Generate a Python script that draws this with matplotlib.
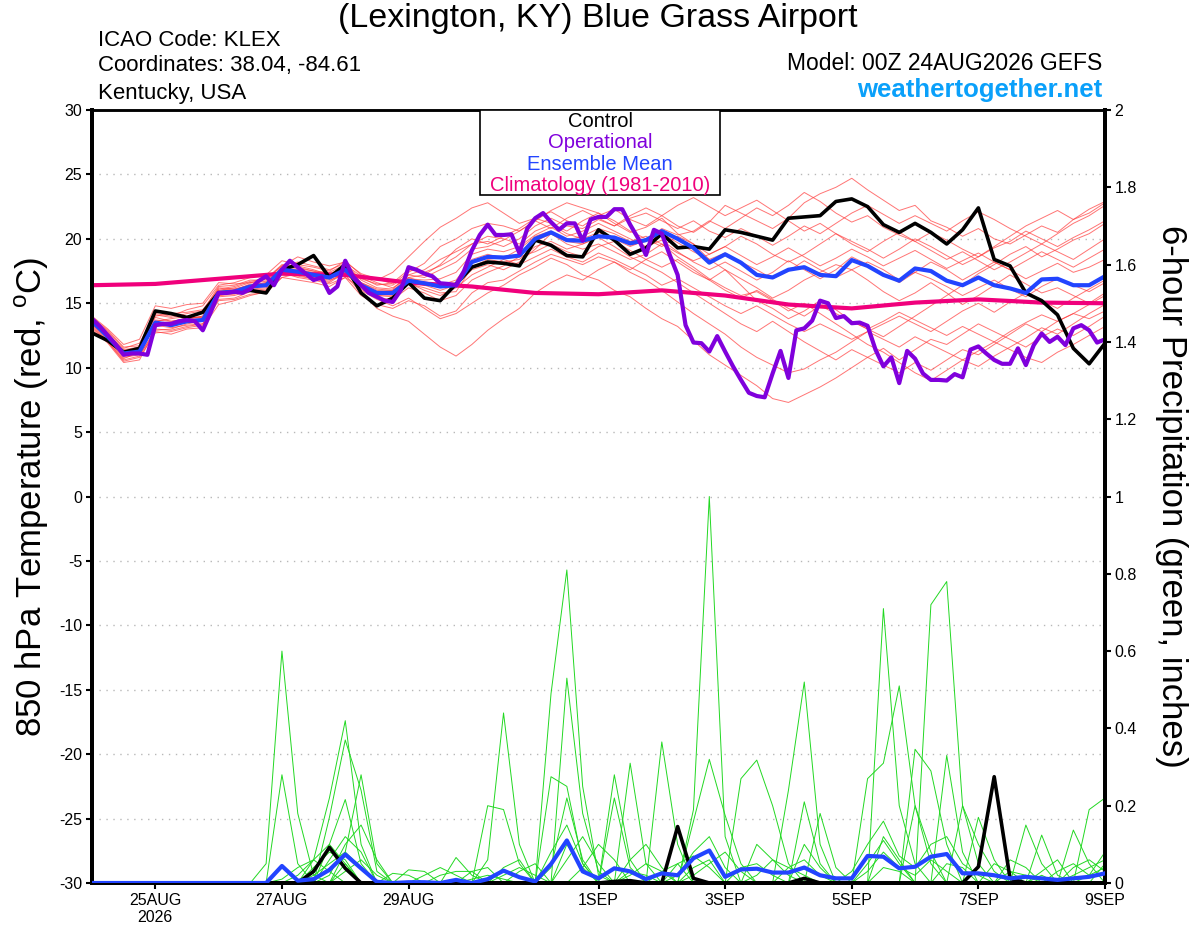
import numpy as np
import matplotlib
matplotlib.use('Agg')
from matplotlib import pyplot as plt
from matplotlib.patches import Rectangle

plt.rcParams['font.family'] = ['Liberation Sans', 'DejaVu Sans']

# x labels (days after 00Z 24AUG2026)
tick_days = [1, 3, 5, 8, 10, 12, 14, 16]
tick_labels = ['25AUG\n2026', '27AUG', '29AUG', '1SEP', '3SEP', '5SEP', '7SEP', '9SEP']

# 850 hPa temperature, 6-hourly (65 steps)
ctrl_t = [12.7, 12.1, 11.2, 11.5, 14.4, 14.2, 13.9, 14.3, 15.8, 15.9, 16.0, 15.8, 17.6,
          18.0, 18.7, 17.0, 18.0, 15.8, 14.8, 15.4, 16.6, 15.4, 15.2, 16.5, 17.8, 18.2,
          18.1, 17.9, 19.9, 19.5, 18.7, 18.6, 20.7, 19.9, 18.8, 19.3, 20.4, 19.3, 19.4,
          19.2, 20.7, 20.5, 20.2, 19.9, 21.6, 21.7, 21.8, 22.9, 23.1, 22.5, 21.1, 20.5,
          21.2, 20.5, 19.6, 20.7, 22.4, 18.4, 17.9, 15.8, 15.2, 14.1, 11.5, 10.3, 11.9]
mean_t = [13.6, 12.4, 11.1, 11.25, 13.5, 13.3, 13.6, 13.7, 15.8, 15.9, 16.3, 16.4, 17.6,
          17.45, 17.2, 17.0, 17.6, 16.4, 15.8, 15.8, 16.75, 16.55, 16.3, 16.4, 18.2, 18.6,
          18.55, 18.7, 20.0, 20.5, 19.9, 19.85, 20.2, 20.1, 19.65, 19.9, 20.6, 20.0, 19.3,
          18.15, 18.8, 18.15, 17.2, 17.0, 17.6, 17.8, 17.2, 17.1, 18.35, 17.9, 17.2, 16.75,
          17.7, 17.5, 16.75, 16.4, 17.0, 16.4, 16.15, 15.8, 16.85, 16.9, 16.4, 16.4, 17.1]

# operational run is 3-hourly (129 steps)
oper_t = [13.8, 13.2, 12.5, 11.8, 11.0, 11.1, 11.1, 11.0, 13.3, 13.4, 13.4, 13.6, 13.7, 13.6, 12.9, 14.3,
          15.8, 15.8, 15.9, 15.8, 16.1, 16.7, 17.1, 16.4, 17.6, 18.3, 17.8, 17.3, 16.8, 17.0, 15.8, 16.3,
          18.3, 17.05, 16.4, 15.8, 15.5, 15.2, 15.1, 16.0, 17.8, 17.6, 17.3, 17.1, 16.55, 16.5, 16.4, 17.5,
          19.1, 20.3, 21.1, 20.3, 20.3, 20.35, 18.9, 20.8, 21.6, 22.0, 21.3, 20.7, 21.2, 21.2, 19.85, 21.5,
          21.7, 21.7, 22.3, 22.3, 21.1, 20.05, 18.75, 20.7, 20.4, 18.75, 17.2, 13.3, 11.95, 11.9, 11.25, 12.45,
          11.25, 10.1, 9.05, 8.05, 7.8, 7.7, 9.55, 11.3, 9.2, 12.9, 13.05, 13.65, 15.2, 15.0, 13.85, 14.0,
          13.45, 13.5, 13.25, 11.4, 10.1, 10.8, 8.8, 11.3, 10.7, 9.55, 9.05, 9.05, 9.0, 9.5, 9.25, 11.4,
          11.65, 11.1, 10.6, 10.3, 10.3, 11.5, 10.2, 11.75, 12.65, 12.0, 12.4, 11.75, 13.05, 13.3, 12.9, 11.95,
          12.2]

# climatology, daily
clim_t = [16.4, 16.5, 16.9, 17.3, 17.2, 16.6, 16.3, 15.8, 15.7, 16.0, 15.6, 14.9, 14.6, 15.05, 15.3, 15.05, 15.0]

# ensemble members, temperature
ens_t01 = [13.9, 12.8, 11.5, 11.9, 14.2, 14.0, 14.5, 14.8, 16.4, 16.6, 17.0, 17.2, 18.3, 18.0, 17.8, 17.5, 18.3,
           17.2, 16.8, 17.4, 18.6, 19.8, 20.9, 21.6, 22.4, 22.8, 22.0, 21.2, 21.6, 22.1, 21.4, 21.0, 21.8,
           22.3, 21.5, 21.0, 21.8, 21.0, 20.5, 21.3, 22.6, 22.0, 21.4, 20.8, 21.6, 22.8, 23.5, 24.0, 24.7,
           23.8, 23.0, 22.2, 22.6, 21.4, 20.9, 20.2, 20.8, 20.0, 19.6, 20.3, 21.0, 20.5, 21.5, 22.3, 22.9]
ens_t02 = [13.2, 12.0, 10.6, 10.9, 13.0, 12.9, 13.2, 13.4, 15.3, 15.4, 15.9, 16.0, 17.2, 17.1, 16.9, 16.6, 17.4,
           16.0, 15.3, 14.8, 15.4, 14.6, 13.8, 14.2, 15.0, 15.8, 16.4, 17.2, 17.8, 18.5, 18.0, 17.2, 16.8,
           16.0, 15.5, 14.6, 13.8, 13.2, 12.1, 11.0, 10.2, 9.4, 8.6, 7.6, 7.3, 7.9, 8.5, 9.2, 10.0,
           10.8, 11.5, 10.6, 11.4, 12.2, 11.8, 12.6, 13.4, 12.8, 12.2, 11.6, 12.4, 13.0, 12.5, 13.2, 14.0]
ens_t03 = [13.4, 12.2, 10.8, 11.0, 12.8, 12.6, 13.0, 13.1, 14.9, 15.2, 15.6, 15.9, 17.0, 17.3, 17.0, 16.8, 17.2,
           15.8, 14.6, 14.0, 13.6, 12.6, 11.6, 10.9, 11.8, 12.9, 13.8, 14.6, 15.8, 16.6, 17.2, 16.8, 17.6,
           18.2, 17.6, 18.4, 19.0, 18.2, 17.4, 16.8, 17.6, 16.9, 16.2, 15.4, 16.0, 16.8, 17.4, 18.0, 17.6,
           16.8, 15.9, 15.2, 15.8, 16.6, 15.8, 14.9, 15.6, 16.4, 17.2, 16.5, 15.8, 16.2, 15.6, 15.0, 15.8]
ens_t04 = [14.0, 13.0, 11.8, 12.2, 14.8, 14.6, 14.9, 15.0, 16.6, 16.5, 16.6, 16.9, 17.9, 18.6, 18.2, 17.9, 18.2,
           17.3, 16.9, 16.5, 17.4, 18.1, 19.4, 20.0, 20.8, 21.2, 21.0, 20.6, 21.4, 22.2, 22.8, 22.4, 22.0,
           21.2, 20.5, 20.9, 21.6, 20.4, 19.6, 18.4, 17.6, 16.4, 15.2, 14.6, 13.8, 14.4, 15.2, 14.5, 13.6,
           13.0, 12.4, 13.2, 14.0, 14.8, 15.6, 16.4, 17.3, 18.0, 18.8, 19.4, 18.6, 19.2, 19.9, 20.4, 21.2]
ens_t05 = [13.5, 12.5, 11.3, 11.6, 13.6, 13.8, 14.0, 14.2, 16.0, 16.2, 16.6, 16.7, 17.7, 17.9, 17.6, 17.2, 17.9,
           16.6, 16.0, 15.9, 16.9, 16.8, 16.9, 17.4, 18.8, 19.2, 19.0, 19.4, 20.3, 20.9, 20.2, 20.6, 21.2,
           20.6, 20.0, 19.4, 19.9, 19.0, 18.2, 17.6, 18.2, 17.5, 16.8, 17.4, 18.3, 17.6, 16.9, 17.6, 18.6,
           18.0, 17.3, 16.6, 17.4, 18.2, 17.6, 16.8, 17.5, 18.2, 17.6, 16.9, 17.5, 18.1, 17.4, 17.8, 18.4]
ens_t06 = [13.0, 11.9, 10.4, 10.6, 12.9, 13.0, 13.4, 13.6, 15.6, 15.8, 16.1, 16.2, 17.4, 17.0, 16.8, 16.5, 17.0,
           16.2, 15.6, 15.5, 16.5, 16.2, 15.8, 15.9, 17.8, 18.4, 18.2, 18.4, 19.4, 19.8, 19.2, 19.6, 20.1,
           19.4, 18.6, 18.0, 17.4, 16.6, 15.8, 15.0, 14.2, 13.4, 12.8, 13.6, 12.8, 12.0, 11.3, 10.6, 11.4,
           10.8, 10.2, 9.6, 10.4, 9.8, 10.6, 11.4, 11.0, 11.8, 12.6, 13.4, 12.8, 13.6, 14.2, 13.8, 14.4]
ens_t07 = [13.7, 12.6, 11.0, 11.3, 13.2, 13.5, 13.9, 13.9, 15.7, 16.0, 16.5, 16.4, 17.5, 17.6, 17.4, 17.3, 17.8,
           16.9, 16.5, 16.4, 17.2, 17.6, 18.4, 19.0, 19.6, 20.2, 20.0, 19.6, 20.6, 21.1, 20.4, 20.0, 20.5,
           20.0, 19.4, 19.9, 20.8, 20.3, 20.6, 21.4, 20.8, 21.6, 22.4, 21.8, 22.6, 23.6, 22.9, 22.0, 21.3,
           21.8, 20.9, 20.3, 19.8, 20.5, 19.9, 19.2, 18.6, 19.3, 19.8, 20.6, 20.0, 19.4, 20.1, 20.7, 21.4]
ens_t08 = [13.3, 12.1, 10.7, 11.2, 13.3, 13.1, 13.3, 13.4, 15.5, 15.6, 16.0, 16.1, 17.3, 17.2, 16.9, 16.7, 17.5,
           16.4, 15.9, 16.0, 16.8, 16.4, 16.0, 16.4, 17.6, 18.0, 17.6, 18.2, 19.2, 20.4, 19.6, 19.2, 19.6,
           19.0, 18.4, 18.8, 19.6, 18.6, 17.8, 16.9, 16.2, 15.6, 15.9, 15.2, 14.4, 15.0, 14.2, 13.4, 12.6,
           11.8, 11.2, 10.4, 9.6, 9.0, 9.8, 10.6, 10.1, 10.9, 11.6, 12.3, 13.1, 12.6, 13.4, 14.2, 14.9]
ens_t09 = [13.8, 12.7, 11.3, 11.5, 13.9, 13.6, 13.8, 14.0, 16.2, 16.1, 16.4, 16.6, 17.8, 17.7, 17.5, 17.1, 17.6,
           17.0, 16.4, 16.6, 17.6, 17.4, 17.9, 18.6, 19.6, 19.8, 19.4, 20.0, 21.0, 21.6, 21.0, 20.8, 21.5,
           21.0, 21.6, 22.0, 21.4, 20.8, 21.4, 20.6, 20.1, 20.8, 20.2, 19.5, 20.2, 21.0, 20.4, 21.2, 22.0,
           22.6, 21.9, 21.2, 21.8, 21.2, 20.6, 21.4, 22.1, 21.5, 20.8, 20.2, 19.6, 20.4, 21.2, 21.8, 22.6]
ens_t10 = [13.1, 12.0, 10.5, 10.8, 12.7, 12.8, 13.1, 13.3, 15.2, 15.3, 15.7, 15.8, 17.0, 16.8, 16.6, 16.3, 17.0,
           15.6, 14.9, 14.6, 15.2, 14.8, 14.0, 14.4, 15.8, 16.6, 16.8, 17.5, 18.2, 18.8, 18.4, 18.0, 18.6,
           18.2, 17.4, 16.8, 16.0, 15.1, 14.2, 13.4, 12.6, 11.6, 10.8, 10.2, 9.6, 9.9, 10.6, 11.2, 12.0,
           12.8, 13.4, 14.0, 13.4, 12.8, 13.6, 14.4, 15.0, 14.3, 15.1, 15.8, 15.2, 14.6, 15.4, 16.1, 16.8]
ens_t11 = [13.6, 12.3, 11.1, 11.4, 13.5, 13.4, 13.7, 13.8, 15.9, 16.0, 16.3, 16.5, 17.6, 17.4, 17.1, 17.0, 17.7,
           16.3, 15.7, 15.6, 16.6, 16.4, 16.5, 16.6, 18.1, 18.6, 18.6, 18.8, 19.8, 20.4, 19.8, 19.6, 20.2,
           20.1, 19.5, 19.8, 20.4, 19.7, 19.0, 18.4, 18.9, 18.2, 17.6, 16.9, 17.5, 18.3, 17.6, 17.0, 17.6,
           18.2, 17.6, 16.8, 17.4, 16.9, 16.3, 15.6, 16.2, 16.8, 16.1, 15.5, 16.3, 16.9, 16.4, 15.9, 16.6]
ens_t12 = [13.9, 12.9, 11.6, 11.7, 14.0, 14.2, 14.3, 14.5, 16.1, 16.3, 16.7, 16.9, 18.0, 17.8, 17.5, 17.4, 18.0,
           17.1, 16.6, 16.2, 17.0, 17.2, 18.0, 19.2, 20.0, 19.6, 20.2, 20.8, 21.6, 21.2, 20.6, 21.4, 22.0,
           21.4, 20.6, 20.0, 19.4, 20.2, 19.6, 18.8, 19.4, 20.2, 19.6, 18.8, 18.2, 18.8, 19.6, 20.4, 19.8,
           19.2, 18.5, 19.2, 20.0, 19.4, 18.7, 18.0, 18.6, 19.4, 20.2, 21.0, 21.6, 22.2, 21.5, 22.0, 22.8]
ens_t13 = [13.5, 12.3, 10.9, 11.1, 13.4, 13.2, 13.5, 13.7, 15.6, 15.7, 16.2, 16.3, 17.3, 17.5, 17.3, 17.1, 17.4,
           16.1, 15.4, 15.3, 16.2, 15.8, 15.2, 15.6, 16.8, 17.4, 17.9, 18.6, 19.0, 19.6, 19.0, 18.6, 19.4,
           19.8, 19.1, 18.4, 17.8, 18.4, 17.6, 16.8, 16.0, 15.4, 16.0, 15.3, 14.6, 14.0, 14.8, 14.2, 13.6,
           13.0, 13.6, 14.3, 13.7, 13.1, 12.5, 13.2, 12.6, 12.0, 12.8, 13.5, 14.1, 13.6, 14.2, 14.9, 15.6]
ens_t14 = [13.7, 12.6, 11.4, 11.6, 14.1, 13.9, 14.2, 14.4, 16.3, 16.4, 16.8, 16.8, 17.9, 18.2, 17.9, 17.6, 18.1,
           16.8, 16.2, 16.1, 17.2, 17.0, 17.6, 18.2, 19.2, 19.4, 19.9, 20.6, 21.4, 20.8, 21.6, 22.2, 21.6,
           21.0, 21.8, 22.4, 21.8, 22.6, 23.2, 22.5, 21.8, 22.4, 23.0, 22.2, 21.4, 20.6, 21.2, 20.4, 19.6,
           19.0, 19.8, 20.5, 19.8, 19.1, 18.4, 19.0, 18.3, 17.6, 18.2, 18.9, 19.6, 19.0, 18.4, 19.2, 20.0]
ens_t15 = [13.4, 12.3, 10.9, 11.3, 13.2, 13.4, 13.8, 13.9, 15.9, 15.8, 16.2, 16.5, 17.6, 17.4, 17.0, 16.9, 17.6,
           16.3, 15.6, 15.7, 16.6, 16.0, 15.6, 16.2, 17.2, 17.8, 18.4, 18.0, 18.6, 19.2, 18.6, 18.2, 18.9,
           18.4, 17.8, 17.2, 16.4, 16.9, 16.2, 15.5, 14.8, 14.2, 14.8, 14.1, 13.4, 12.8, 13.4, 12.8, 12.2,
           12.8, 12.2, 11.6, 12.4, 11.8, 11.2, 10.6, 11.3, 12.0, 11.4, 10.8, 10.4, 11.2, 11.8, 12.5, 13.2]
ens_t16 = [13.6, 12.5, 11.2, 11.4, 13.7, 13.6, 13.8, 14.0, 16.0, 16.1, 16.4, 16.6, 17.5, 17.6, 17.3, 17.2, 17.8,
           16.6, 16.1, 16.0, 17.0, 16.6, 16.4, 16.8, 18.4, 18.8, 18.5, 19.2, 20.2, 20.6, 19.9, 20.2, 20.8,
           20.4, 19.8, 20.2, 19.6, 18.9, 18.3, 18.8, 19.4, 18.7, 18.0, 18.6, 19.3, 18.6, 17.9, 18.5, 19.2,
           18.6, 17.9, 18.5, 19.1, 18.4, 17.7, 18.3, 18.9, 18.2, 17.6, 18.3, 19.0, 18.4, 17.8, 18.5, 19.2]
ens_temp = [ens_t01, ens_t02, ens_t03, ens_t04, ens_t05, ens_t06, ens_t07, ens_t08,
            ens_t09, ens_t10, ens_t11, ens_t12, ens_t13, ens_t14, ens_t15, ens_t16]

# 6-hour precipitation (inches)
ctrl_p = [0, 0, 0, 0, 0, 0, 0, 0, 0, 0, 0, 0, 0,
          0, 0.03, 0.092, 0.038, 0, 0, 0, 0, 0, 0, 0, 0, 0,
          0, 0, 0, 0, 0, 0, 0, 0.004, 0.006, 0, 0, 0.146, 0.012,
          0, 0, 0, 0, 0, 0, 0.012, 0, 0, 0, 0, 0, 0,
          0, 0, 0, 0, 0.042, 0.275, 0.012, 0, 0, 0, 0, 0, 0]
mean_p = [0, 0, 0, 0, 0, 0, 0, 0, 0, 0, 0, 0, 0.044,
          0.006, 0.01, 0.034, 0.074, 0.038, 0.003, 0, 0.002, 0.002, 0, 0.008, 0, 0.01,
          0.032, 0.015, 0.004, 0.049, 0.11, 0.03, 0.012, 0.038, 0.03, 0.01, 0.025, 0.02, 0.064,
          0.084, 0.016, 0.035, 0.037, 0.027, 0.027, 0.04, 0.02, 0.012, 0.012, 0.07, 0.068, 0.038,
          0.042, 0.068, 0.075, 0.025, 0.025, 0.02, 0.012, 0.016, 0.012, 0.008, 0.012, 0.016, 0.025]

ens_p01 = [0, 0, 0, 0, 0, 0, 0, 0, 0, 0, 0, 0.05, 0.60,
           0.18, 0.02, 0, 0.05, 0, 0, 0, 0, 0, 0, 0, 0, 0,
           0, 0, 0, 0.49, 0.81, 0.25, 0.02, 0, 0, 0, 0, 0, 0,
           0, 0, 0, 0, 0, 0, 0.21, 0.05, 0, 0, 0, 0, 0,
           0, 0.72, 0.78, 0.20, 0.05, 0, 0, 0, 0, 0, 0.02, 0.04, 0.06]
ens_p02 = [0, 0, 0, 0, 0, 0, 0, 0, 0, 0, 0, 0, 0.28,
           0.05, 0, 0.17, 0.37, 0.24, 0.03, 0, 0, 0, 0, 0, 0, 0.06,
           0.44, 0.10, 0, 0, 0, 0, 0, 0, 0, 0, 0, 0, 0.19,
           1.00, 0.12, 0, 0, 0, 0, 0, 0, 0, 0, 0, 0.71, 0.20,
           0.05, 0, 0, 0, 0, 0, 0, 0.15, 0.05, 0, 0, 0, 0]
ens_p03 = [0, 0, 0, 0, 0, 0, 0, 0, 0, 0, 0, 0, 0,
           0, 0.06, 0.22, 0.42, 0.10, 0, 0, 0, 0, 0, 0.066, 0.02, 0,
           0, 0, 0, 0, 0.53, 0.18, 0.03, 0, 0, 0, 0.365, 0.10, 0,
           0, 0, 0, 0, 0, 0, 0, 0, 0, 0, 0.27, 0.31, 0.51,
           0.2, 0.05, 0, 0, 0, 0, 0, 0, 0, 0, 0, 0.19, 0.22]
ens_p04 = [0, 0, 0, 0, 0, 0, 0, 0, 0, 0, 0, 0, 0,
           0, 0, 0.10, 0.216, 0.05, 0, 0, 0.034, 0.03, 0, 0, 0, 0,
           0, 0, 0, 0.275, 0.25, 0.05, 0, 0.28, 0.06, 0, 0, 0, 0,
           0, 0, 0, 0, 0, 0.24, 0.52, 0.10, 0, 0, 0, 0, 0,
           0, 0, 0.33, 0.08, 0, 0, 0, 0, 0.124, 0.02, 0, 0, 0]
ens_p05 = [0, 0, 0, 0, 0, 0, 0, 0, 0, 0, 0, 0, 0,
           0, 0, 0, 0.08, 0.28, 0.05, 0, 0, 0, 0, 0, 0, 0.2,
           0.19, 0.05, 0, 0, 0, 0, 0, 0, 0.31, 0.05, 0, 0, 0,
           0, 0, 0.27, 0.318, 0.2, 0.05, 0, 0, 0, 0, 0, 0, 0,
           0.346, 0.29, 0.10, 0, 0, 0, 0, 0, 0, 0, 0.137, 0.05, 0]
ens_p06 = [0, 0, 0, 0, 0, 0, 0, 0, 0, 0, 0, 0, 0,
           0.02, 0.06, 0.10, 0.05, 0, 0, 0.025, 0.02, 0, 0, 0, 0, 0,
           0, 0, 0, 0, 0, 0, 0, 0.22, 0.04, 0, 0, 0, 0.16,
           0.32, 0.175, 0.05, 0, 0, 0, 0, 0, 0, 0, 0, 0, 0,
           0, 0, 0, 0, 0.17, 0.06, 0, 0, 0, 0, 0, 0, 0.05]
ens_p07 = [0, 0, 0, 0, 0, 0, 0, 0, 0, 0, 0, 0, 0,
           0, 0, 0.06, 0.12, 0.08, 0, 0, 0, 0, 0, 0, 0, 0,
           0.04, 0.06, 0, 0.08, 0.15, 0.05, 0, 0, 0, 0, 0, 0.05, 0.07,
           0.04, 0, 0, 0, 0, 0, 0, 0.18, 0.04, 0, 0, 0.12, 0.06,
           0, 0, 0, 0.2, 0.10, 0.03, 0, 0, 0, 0, 0, 0, 0]
ens_p08 = [0, 0, 0, 0, 0, 0, 0, 0, 0, 0, 0, 0, 0,
           0, 0.04, 0.08, 0.06, 0, 0, 0, 0, 0, 0.02, 0.03, 0.03, 0,
           0, 0, 0, 0, 0, 0.04, 0.10, 0.06, 0, 0, 0.03, 0.05, 0,
           0, 0, 0, 0.10, 0.06, 0.02, 0, 0, 0, 0, 0.05, 0.11, 0.05,
           0, 0, 0, 0, 0, 0, 0.06, 0.04, 0, 0, 0, 0, 0]
ens_p09 = [0, 0, 0, 0, 0, 0, 0, 0, 0, 0, 0, 0, 0,
           0, 0, 0, 0.03, 0.06, 0.02, 0, 0, 0, 0, 0, 0, 0,
           0, 0.03, 0.05, 0, 0, 0, 0, 0, 0.06, 0.10, 0.04, 0, 0,
           0, 0, 0, 0, 0, 0, 0.10, 0.04, 0, 0, 0, 0, 0,
           0.2, 0.08, 0, 0, 0, 0.05, 0.03, 0, 0.03, 0.06, 0, 0, 0]
ens_p10 = [0, 0, 0, 0, 0, 0, 0, 0, 0, 0, 0, 0, 0.01,
           0.04, 0.06, 0.03, 0, 0, 0, 0, 0, 0, 0, 0, 0.03, 0.04,
           0, 0, 0, 0, 0.10, 0.04, 0, 0, 0, 0, 0, 0, 0.04,
           0.06, 0, 0.04, 0.05, 0.02, 0, 0, 0, 0, 0, 0, 0.04, 0.03,
           0, 0, 0.05, 0.04, 0, 0, 0, 0, 0, 0, 0.04, 0.06, 0.03]
ens_p11 = [0, 0, 0, 0, 0, 0, 0, 0, 0, 0, 0, 0, 0,
           0, 0.02, 0.05, 0.08, 0.04, 0, 0, 0, 0.02, 0.04, 0.02, 0, 0,
           0.02, 0.04, 0.02, 0, 0.06, 0.12, 0.05, 0, 0.02, 0.05, 0.03, 0, 0.02,
           0.05, 0.08, 0.03, 0, 0, 0.04, 0.06, 0.02, 0, 0, 0.03, 0.08, 0.04,
           0.02, 0.06, 0.03, 0, 0, 0, 0.03, 0.02, 0, 0.03, 0.05, 0.02, 0.04]
ens_p12 = [0, 0, 0, 0, 0, 0, 0, 0, 0, 0, 0, 0, 0,
           0, 0, 0.02, 0.10, 0.15, 0.06, 0, 0, 0, 0, 0, 0.01, 0.02,
           0.01, 0, 0, 0.04, 0.22, 0.06, 0, 0, 0.03, 0.02, 0, 0.02, 0.08,
           0.12, 0.04, 0, 0.02, 0.06, 0.04, 0.02, 0, 0, 0.03, 0.10, 0.16, 0.07,
           0.04, 0.10, 0.12, 0.05, 0.02, 0, 0, 0, 0.02, 0, 0, 0.02, 0.08]
ens_prec = [ens_p01, ens_p02, ens_p03, ens_p04, ens_p05, ens_p06,
            ens_p07, ens_p08, ens_p09, ens_p10, ens_p11, ens_p12]

# time axes in days
t6 = np.arange(len(ctrl_t)) * 0.25
t3 = np.arange(len(oper_t)) * 0.125
td = np.arange(len(clim_t)) * 1.0

RED = '#FF3A3A'
GREEN = '#22D822'
PURPLE = '#8000DC'
BLUE = '#2244FF'
PINK = '#F0007C'

fig = plt.figure(figsize=(12, 9.27), dpi=100)
ax = fig.add_axes([92/1200, 1-883/927, (1105-92)/1200, (883-110)/927])
ax2 = ax.twinx()

for m in ens_temp:
    ax.plot(t6, m, color=RED, lw=0.7, alpha=0.7, zorder=2)
ax.plot(td, clim_t, color=PINK, lw=3, zorder=3)
ax.plot(t6, ctrl_t, color='black', lw=2.6, zorder=4)
ax.plot(t6, mean_t, color=BLUE, lw=3, zorder=5)
ax.plot(t3, oper_t, color=PURPLE, lw=3, zorder=6)

for m in ens_prec:
    ax2.plot(t6, m, color=GREEN, lw=0.7, zorder=2)
ax2.plot(t6, ctrl_p, color='black', lw=2.6, zorder=4)
ax2.plot(t6, mean_p, color=BLUE, lw=3, zorder=5)

ax.set_xlim(0, 16)
ax.set_ylim(-30, 30)
ax2.set_ylim(0, 2)
ax.set_yticks(np.arange(-30, 31, 5))
ax.set_yticklabels([str(v) for v in range(-30, 31, 5)], fontsize=11.5)
ax2.set_yticks(np.arange(0, 2.01, 0.2))
ax2.set_yticklabels(['0', '0.2', '0.4', '0.6', '0.8', '1', '1.2', '1.4', '1.6', '1.8', '2'], fontsize=11.5)
ax.set_xticks(tick_days)
ax.set_xticklabels(tick_labels, fontsize=11.5, linespacing=1.15)

ax.grid(axis='y', color='#B8B8B8', linestyle=(0, (1, 4)), lw=1)
ax.tick_params(axis='both', direction='out', length=4, width=1.5, pad=3)
ax2.tick_params(axis='y', direction='out', length=4, width=1.5, pad=3)

for a in (ax, ax2):
    for s in ['left', 'right', 'bottom']:
        a.spines[s].set_linewidth(2.8)
    a.spines['top'].set_linewidth(1.8)

ax.set_ylabel('850 hPa Temperature (red, $^{\\mathregular{o}}$C)', fontsize=25, va='center')
ax.yaxis.set_label_coords(-0.059, 0.5)
ax2.set_ylabel('6-hour Precipitation (green, inches)', fontsize=25, rotation=270, va='center')
ax2.yaxis.set_label_coords(1.066, 0.5)

# legend box
ax2.add_patch(Rectangle((0.383, 0.890), 0.237, 0.11, transform=ax2.transAxes,
                        facecolor='white', edgecolor='black', lw=1.2, zorder=10))
leg_items = [('Control', 'black'), ('Operational', PURPLE),
             ('Ensemble Mean', BLUE), ('Climatology (1981-2010)', PINK)]
for k, (txt, c) in enumerate(leg_items):
    ax2.text(0.5015, 0.985 - k*0.0275, txt, color=c, fontsize=14.5, ha='center', va='center',
             transform=ax2.transAxes, zorder=11)

# header texts
fig.text(0.498, 1-19/927, '(Lexington, KY) Blue Grass Airport', ha='center', va='center', fontsize=24.5)
fig.text(98/1200, 1-40/927, 'ICAO Code: KLEX', ha='left', va='center', fontsize=16)
fig.text(98/1200, 1-66/927, 'Coordinates: 38.04, -84.61', ha='left', va='center', fontsize=16)
fig.text(98/1200, 1-93/927, 'Kentucky, USA', ha='left', va='center', fontsize=16)
fig.text(1102/1200, 1-63/927, 'Model: 00Z 24AUG2026 GEFS', ha='right', va='center', fontsize=16.5)
fig.text(1102/1200, 1-90/927, 'weathertogether.net', ha='right', va='center', fontsize=18.5,
         fontweight='bold', color='#0AA0FA')

fig.savefig('out.png', dpi=100)
